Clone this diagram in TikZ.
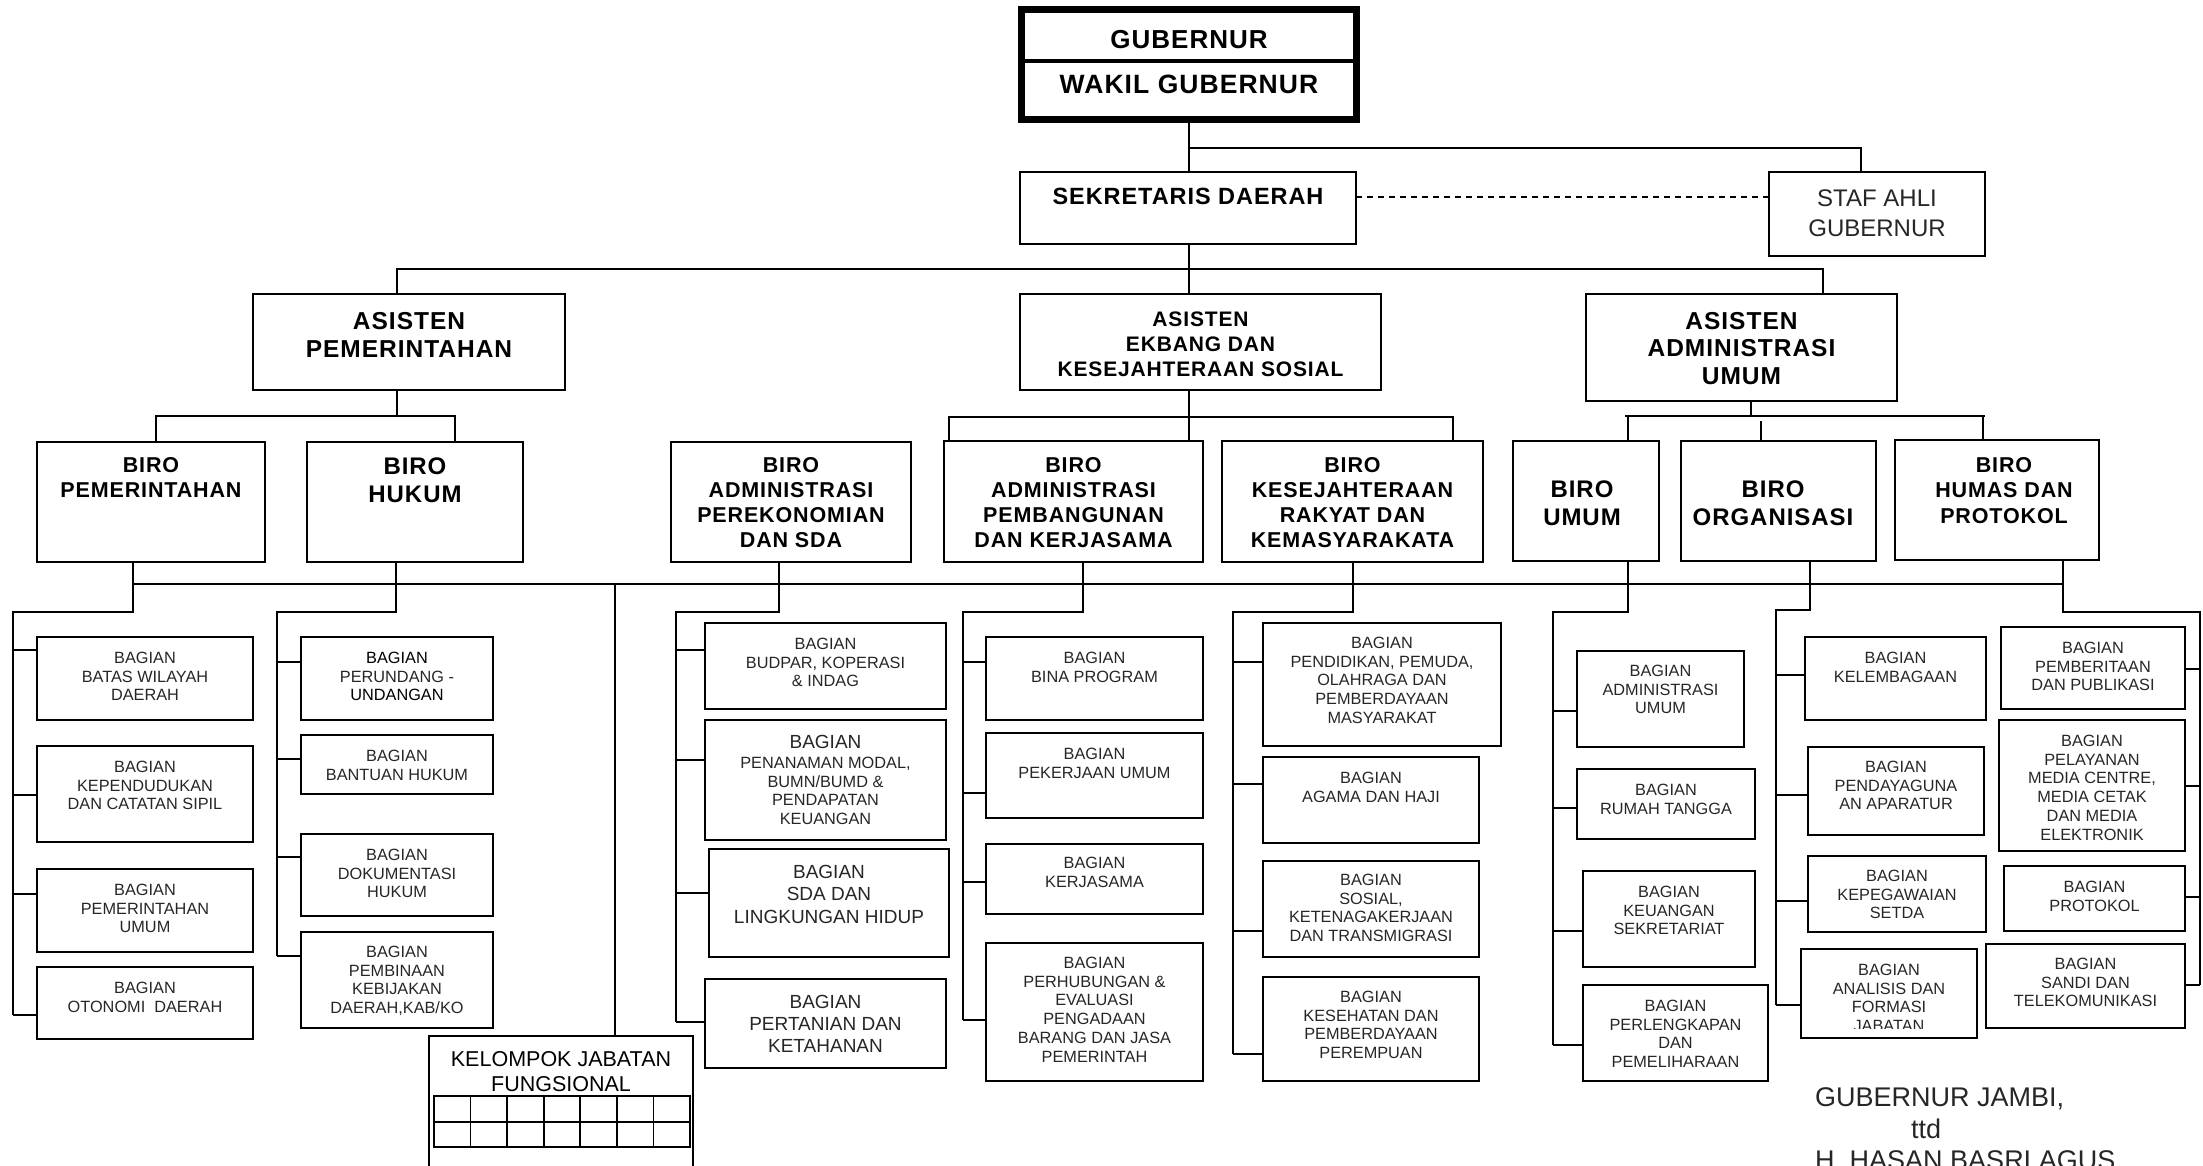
\documentclass[tikz,border=0pt]{standalone}
\usepackage{fontspec}
\setmainfont{Liberation Sans}
\newfontfamily\titlefont{Liberation Sans}[LetterSpace=4]
\definecolor{tg}{HTML}{262626}
\tikzset{
 bx/.style={draw, line width=1.8pt, inner sep=0pt, outer sep=0pt},
 ln/.style={line width=1.8pt},
 bg/.style={font=\fontsize{16.3}{18.7}\selectfont, text=tg},
 bgl/.style={font=\fontsize{19}{22.3}\selectfont, text=tg},
 tA/.style={font=\titlefont\bfseries\fontsize{21.5}{25}\selectfont},
 tB/.style={font=\titlefont\bfseries\fontsize{24}{28}\selectfont},
 tC/.style={font=\titlefont\bfseries\fontsize{21}{25}\selectfont},
 tD/.style={font=\titlefont\bfseries\fontsize{24.5}{28}\selectfont},
 tG/.style={font=\titlefont\bfseries\fontsize{26}{30}\selectfont},
 rg/.style={font=\fontsize{24}{30}\selectfont, text=tg},
}
\newcommand\bx[5]{\pgfmathsetmacro\bw{#4-#2}\pgfmathsetmacro\bh{#5-#3}%
 \pgfmathsetmacro\bcx{(#2+#4)/2}\pgfmathsetmacro\bcy{(#3+#5)/2}%
 \node[bx, minimum width=\bw pt, minimum height=\bh pt] (#1) at (\bcx,\bcy) {};}
\newcommand\tx[4]{\node[anchor=north, align=center, inner sep=0pt, #1] at (#2,#3) {#4};}
\newcommand\tk[4]{\coordinate (tkc) at (0,#3); \draw[ln] (#1 |- tkc) -- (#2.#4 |- tkc);}
\begin{document}
\begin{tikzpicture}[x=1pt,y=-1pt]
\useasboundingbox (0,0) rectangle (2203,1165);
\clip (0,0) rectangle (2203,1165);
% ---------- top ----------
\node[bx, line width=7pt, minimum width=335pt, minimum height=110pt] (gub) at (1189,64.5) {};
\coordinate (gd) at (0,61);
\draw[line width=4pt] (gub.west |- gd) -- (gub.east |- gd);
\tx{tG}{1189}{30}{GUBERNUR}
\node[anchor=north, inner sep=0pt, font=\titlefont\bfseries\fontsize{26.5}{30}\selectfont] at (1189,75) {WAKIL GUBERNUR};
\bx{sek}{1020}{172}{1356}{244}
\tx{font=\titlefont\bfseries\fontsize{23.5}{28}\selectfont}{1188}{188}{SEKRETARIS DAERAH}
\bx{staf}{1769}{172}{1985}{256}
\tx{rg}{1877}{190}{STAF AHLI\\GUBERNUR}
\bx{asp}{253}{294}{565}{390}
\tx{tD}{409}{312}{ASISTEN\\PEMERINTAHAN}
\bx{ase}{1020}{294}{1381}{390}
\tx{tC}{1200.5}{312}{ASISTEN\\EKBANG DAN\\KESEJAHTERAAN SOSIAL}
\bx{asa}{1586}{294}{1897}{401}
\tx{font=\titlefont\bfseries\fontsize{24.5}{27.5}\selectfont}{1741.5}{312}{ASISTEN\\ADMINISTRASI\\UMUM}
% connectors top
\coordinate (c1) at (1189,148); \coordinate (c2) at (1861,148);
\draw[ln] (gub.south -| c1) -- (c1 |- sek.north);
\draw[ln] (c1) -- (c2) -- (c2 |- staf.north);
\coordinate (c3) at (0,197);
\draw[ln, dash pattern=on 6pt off 5pt] (sek.east |- c3) -- (staf.west |- c3);
\draw[ln] (c1 |- sek.south) -- (c1 |- ase.north);
\coordinate (c4) at (397,269); \coordinate (c5) at (1823,269);
\draw[ln] (c4 |- asp.north) -- (c4) -- (c5) -- (c5 |- asa.north);
% ---------- biro ----------
\bx{bpem}{37}{442}{265}{562}
\tx{tA}{151}{457}{BIRO\\PEMERINTAHAN}
\bx{bhuk}{307}{442}{523}{562}
\tx{tB}{415}{458}{BIRO\\HUKUM}
\bx{beko}{671}{442}{911}{562}
\tx{tA}{791}{457}{BIRO\\ADMINISTRASI\\PEREKONOMIAN\\DAN SDA}
\bx{bpbg}{944}{441}{1203}{562}
\tx{tA}{1073.5}{457}{BIRO\\ADMINISTRASI\\PEMBANGUNAN\\DAN KERJASAMA}
\bx{bkes}{1222}{441}{1483}{562}
\tx{tA}{1352.5}{457}{BIRO\\KESEJAHTERAAN\\RAKYAT DAN\\KEMASYARAKATA}
\bx{bumu}{1513}{441}{1659}{561}
\tx{tB}{1582}{481}{BIRO\\UMUM}
\bx{borg}{1681}{441}{1876}{561}
\tx{tB}{1773}{481}{BIRO\\ORGANISASI}
\bx{bhum}{1895}{440}{2099}{560}
\tx{font=\titlefont\bfseries\fontsize{21.5}{25.5}\selectfont}{2004}{457}{BIRO\\HUMAS DAN\\PROTOKOL}
% asisten -> biro
\coordinate (c6) at (156,416); \coordinate (c7) at (455,416);
\draw[ln] (c4 |- asp.south) -- (c4 |- c6);
\draw[ln] (c6 |- bpem.north) -- (c6) -- (c7) -- (c7 |- bhuk.north);
\coordinate (c8) at (949,417); \coordinate (c9) at (1453,417);
\draw[ln] (c1 |- ase.south) -- (c1 |- bpbg.north);
\draw[ln] (c8 |- bpbg.north) -- (c8) -- (c9) -- (c9 |- bkes.north);
\coordinate (c10) at (1751,416); \coordinate (c11) at (1625,416); \coordinate (c12) at (1985,416);
\coordinate (c13) at (1628,416); \coordinate (c14) at (1983,416); \coordinate (c15) at (1761,421);
\draw[ln] (c10 |- asa.south) -- (c10);
\draw[ln] (c11) -- (c12);
\draw[ln] (c13) -- (c13 |- bumu.north);
\draw[ln] (c14) -- (c14 |- bhum.north);
\draw[ln] (c15) -- (c15 |- borg.north);
% long bus
\coordinate (bL) at (133,584); \coordinate (bR) at (2064,584);
\draw[ln] (bL) -- (bR);
% ---------- column A ----------
\bx{bat}{37}{637}{253}{720} \tx{bg}{145}{652}{BAGIAN\\BATAS WILAYAH\\DAERAH}
\bx{kep}{37}{746}{253}{842} \tx{bg}{145}{761}{BAGIAN\\KEPENDUDUKAN\\DAN CATATAN SIPIL}
\bx{pmu}{37}{869}{253}{952} \tx{bg}{145}{884}{BAGIAN\\PEMERINTAHAN\\UMUM}
\bx{oto}{37}{967}{253}{1039} \tx{bg}{145}{982}{BAGIAN\\OTONOMI\ \ DAERAH}
\coordinate (dA) at (133,612); \coordinate (vA) at (13,612); \coordinate (eA) at (13,1015);
\draw[ln] (dA |- bpem.south) -- (dA) -- (vA) -- (eA);
\tk{vA}{bat}{650}{west} \tk{vA}{kep}{795}{west} \tk{vA}{pmu}{894}{west} \tk{vA}{oto}{1015}{west}
% ---------- column B ----------
\bx{pru}{301}{637}{493}{720} \tx{bg}{397}{652}{\textcolor{black}{BAGIAN}\\PERUNDANG -\\\textcolor{black}{UNDANGAN}}
\bx{ban}{301}{735}{493}{794} \tx{bg}{397}{750}{BAGIAN\\BANTUAN HUKUM}
\bx{dok}{301}{834}{493}{916} \tx{bg}{397}{849}{BAGIAN\\DOKUMENTASI\\HUKUM}
\bx{pbn}{301}{932}{493}{1028} \tx{bg}{397}{946}{BAGIAN\\PEMBINAAN\\KEBIJAKAN\\DAERAH,KAB/KO}
\coordinate (dB) at (396,612); \coordinate (vB) at (277,612); \coordinate (eB) at (277,956);
\draw[ln] (dB |- bhuk.south) -- (dB) -- (vB) -- (eB);
\tk{vB}{pru}{662}{west} \tk{vB}{ban}{759}{west} \tk{vB}{dok}{857}{west} \tk{vB}{pbn}{956}{west}
% ---------- kelompok ----------
\bx{kel}{429}{1036}{693}{1185}
\tx{font=\fontsize{21.5}{25}\selectfont}{561}{1051}{KELOMPOK JABATAN\\FUNGSIONAL}
\coordinate (kk) at (615,584);
\draw[ln] (kk) -- (kk |- kel.north);
\draw[ln] (434,1096) rectangle (690,1147);
\draw[ln] (434,1122) -- (690,1122);
\foreach \i in {1,...,6} {\draw[ln] ({434+\i*36.571},1096) -- ({434+\i*36.571},1147);}
% ---------- column C ----------
\bx{bud}{705}{623}{946}{709} \tx{bg}{825.5}{638}{BAGIAN\\BUDPAR, KOPERASI\\\& INDAG}
\bx{pen}{705}{720}{946}{840} \tx{bgl}{825.5}{735}{BAGIAN}
\tx{bg}{825.5}{757}{PENANAMAN MODAL,\\BUMN/BUMD \&\\PENDAPATAN\\KEUANGAN}
\bx{sda}{709}{849}{949}{957} \tx{font=\fontsize{19}{22.5}\selectfont, text=tg}{829}{865}{BAGIAN\\SDA DAN\\LINGKUNGAN HIDUP}
\bx{per}{705}{979}{946}{1068} \tx{font=\fontsize{19}{22}\selectfont, text=tg}{825.5}{995}{BAGIAN\\PERTANIAN DAN\\KETAHANAN}
\coordinate (dC) at (779,612); \coordinate (vC) at (676,612); \coordinate (eC) at (676,1022);
\draw[ln] (dC |- beko.south) -- (dC) -- (vC) -- (eC);
\tk{vC}{bud}{650}{west} \tk{vC}{pen}{760}{west} \tk{vC}{sda}{893}{west} \tk{vC}{per}{1022}{west}
% ---------- column D ----------
\bx{bin}{986}{637}{1203}{720} \tx{bg}{1094.5}{652}{BAGIAN\\BINA PROGRAM}
\bx{pek}{986}{733}{1203}{818} \tx{bg}{1094.5}{748}{BAGIAN\\PEKERJAAN UMUM}
\bx{ker}{986}{844}{1203}{914} \tx{bg}{1094.5}{857}{BAGIAN\\KERJASAMA}
\bx{phb}{986}{943}{1203}{1081} \tx{bg}{1094.5}{957}{BAGIAN\\PERHUBUNGAN \&\\EVALUASI\\PENGADAAN\\BARANG DAN JASA\\PEMERINTAH}
\coordinate (dD) at (1083,612); \coordinate (vD) at (963,612); \coordinate (eD) at (963,1020);
\draw[ln] (dD |- bpbg.south) -- (dD) -- (vD) -- (eD);
\tk{vD}{bin}{662}{west} \tk{vD}{pek}{793}{west} \tk{vD}{ker}{882}{west} \tk{vD}{phb}{1020}{west}
% ---------- column E ----------
\bx{pdd}{1263}{623}{1501}{746} \tx{bg}{1382}{637}{BAGIAN\\PENDIDIKAN, PEMUDA,\\OLAHRAGA DAN\\PEMBERDAYAAN\\MASYARAKAT}
\bx{aga}{1263}{757}{1479}{843} \tx{bg}{1371}{772}{BAGIAN\\AGAMA DAN HAJI}
\bx{sos}{1263}{861}{1479}{957} \tx{bg}{1371}{874}{BAGIAN\\SOSIAL,\\KETENAGAKERJAAN\\DAN TRANSMIGRASI}
\bx{kes}{1263}{977}{1479}{1081} \tx{bg}{1371}{991}{BAGIAN\\KESEHATAN DAN\\PEMBERDAYAAN\\PEREMPUAN}
\coordinate (dE) at (1353,612); \coordinate (vE) at (1233,612); \coordinate (eE) at (1233,1054);
\draw[ln] (dE |- bkes.south) -- (dE) -- (vE) -- (eE);
\tk{vE}{pdd}{662}{west} \tk{vE}{aga}{784}{west} \tk{vE}{sos}{931}{west} \tk{vE}{kes}{1054}{west}
% ---------- column F ----------
\bx{adm}{1577}{651}{1744}{747} \tx{bg}{1660.5}{665}{BAGIAN\\ADMINISTRASI\\UMUM}
\bx{rum}{1577}{769}{1755}{839} \tx{bg}{1666}{784}{BAGIAN\\RUMAH TANGGA}
\bx{keu}{1583}{871}{1755}{967} \tx{bg}{1669}{886}{BAGIAN\\KEUANGAN\\SEKRETARIAT}
\bx{prl}{1583}{985}{1768}{1081} \tx{bg}{1675.5}{1000}{BAGIAN\\PERLENGKAPAN\\DAN\\PEMELIHARAAN}
\coordinate (dF) at (1628,612); \coordinate (vF) at (1553,612); \coordinate (eF) at (1553,1045);
\draw[ln] (dF |- bumu.south) -- (dF) -- (vF) -- (eF);
\tk{vF}{adm}{711}{west} \tk{vF}{rum}{808}{west} \tk{vF}{keu}{931}{west} \tk{vF}{prl}{1045}{west}
% ---------- column G ----------
\bx{lem}{1805}{637}{1986}{720} \tx{bg}{1895.5}{652}{BAGIAN\\KELEMBAGAAN}
\bx{pda}{1808}{747}{1984}{835} \tx{bg}{1896}{761}{BAGIAN\\PENDAYAGUNA\\AN APARATUR}
\bx{kpg}{1808}{856}{1986}{932} \tx{bg}{1897}{870}{BAGIAN\\KEPEGAWAIAN\\SETDA}
\bx{ana}{1801}{949}{1977}{1038}
\begin{scope}
\clip (1801,949) rectangle (1977,1028);
\tx{bg}{1889}{964}{BAGIAN\\ANALISIS DAN\\FORMASI\\JABATAN}
\end{scope}
\coordinate (dG) at (1810,610); \coordinate (vG) at (1776,610); \coordinate (eG) at (1776,1005);
\draw[ln] (dG |- borg.south) -- (dG) -- (vG) -- (eG);
\tk{vG}{lem}{675}{west} \tk{vG}{pda}{795}{west} \tk{vG}{kpg}{901}{west} \tk{vG}{ana}{1005}{west}
% ---------- column H ----------
\bx{pbr}{2001}{627}{2185}{709} \tx{bg}{2093}{642}{BAGIAN\\PEMBERITAAN\\DAN PUBLIKASI}
\bx{pml}{1999}{720}{2185}{851} \tx{bg}{2092}{735}{BAGIAN\\PELAYANAN\\MEDIA CENTRE,\\MEDIA CETAK\\DAN MEDIA\\ELEKTRONIK}
\bx{prt}{2004}{866}{2185}{931} \tx{bg}{2094.5}{881}{BAGIAN\\PROTOKOL}
\bx{snd}{1986}{944}{2185}{1028} \tx{bg}{2085.5}{958}{BAGIAN\\SANDI DAN\\TELEKOMUNIKASI}
\coordinate (dH) at (2063,612); \coordinate (vH) at (2200,612); \coordinate (eH) at (2200,985);
\draw[ln] (dH |- bhum.south) -- (dH) -- (vH) -- (eH);
\tk{vH}{pbr}{669}{east} \tk{vH}{pml}{786}{east} \tk{vH}{prt}{897}{east} \tk{vH}{snd}{985}{east}
% ---------- signature ----------
\node[anchor=base west, inner sep=0pt, font=\fontsize{27}{32}\selectfont, text=tg] (sg1) at (1815,1106) {GUBERNUR JAMBI,};
\node[anchor=base west, inner sep=0pt, font=\fontsize{27}{32}\selectfont, text=tg] (sg2) at (1911,1138) {ttd};
\node[anchor=base west, inner sep=0pt, font=\fontsize{27}{32}\selectfont, text=tg] (sg3) at (1815,1169) {H.\ HASAN BASRI AGUS};
\end{tikzpicture}
\end{document}
